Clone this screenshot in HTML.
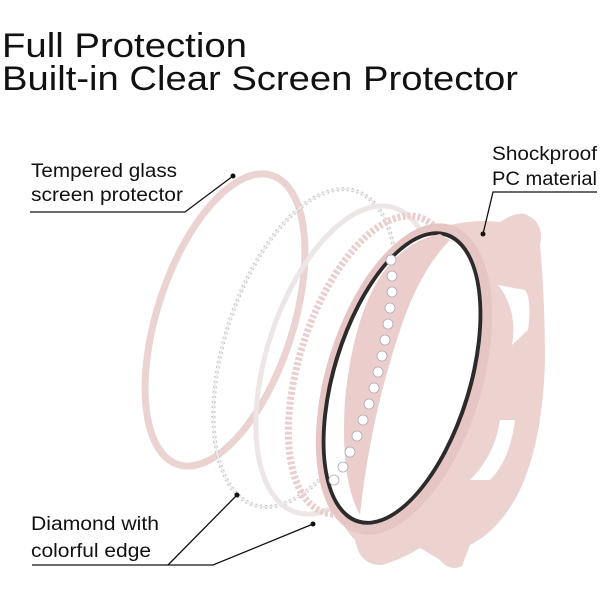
<!DOCTYPE html>
<html><head><meta charset="utf-8"><style>
html,body{margin:0;padding:0;background:#fff;}
svg{display:block;}
text{font-family:"Liberation Sans",sans-serif;fill:#111;}
</style></head><body>
<svg width="600" height="600" viewBox="0 0 600 600" xmlns="http://www.w3.org/2000/svg">
<rect width="600" height="600" fill="#fff"/>
<text x="2" y="57" font-size="34" textLength="245" lengthAdjust="spacingAndGlyphs">Full Protection</text>
<text x="2" y="90" font-size="34" textLength="516" lengthAdjust="spacingAndGlyphs">Built-in Clear Screen Protector</text>

<text x="31" y="177" font-size="19" textLength="146" lengthAdjust="spacingAndGlyphs">Tempered glass</text>
<text x="31" y="201" font-size="19" textLength="152" lengthAdjust="spacingAndGlyphs">screen protector</text>
<text x="492" y="160" font-size="19" textLength="105" lengthAdjust="spacingAndGlyphs">Shockproof</text>
<text x="492" y="185" font-size="19" textLength="105" lengthAdjust="spacingAndGlyphs">PC material</text>
<text x="31" y="530" font-size="19" textLength="128" lengthAdjust="spacingAndGlyphs">Diamond with</text>
<text x="31" y="557" font-size="19" textLength="120" lengthAdjust="spacingAndGlyphs">colorful edge</text>

<!-- glass ring -->
<ellipse cx="225" cy="320" rx="68" ry="152" transform="rotate(18 225 320)" fill="none" stroke="#ead3d1" stroke-width="7"/>
<!-- diamond ring -->
<ellipse cx="305" cy="348" rx="80" ry="165" transform="rotate(18 305 348)" fill="none" stroke="#c9c9cc" stroke-width="4" stroke-dasharray="2 3"/>
<ellipse cx="305" cy="348" rx="80" ry="165" transform="rotate(18 305 348)" fill="none" stroke="#eee" stroke-width="1.5"/>
<!-- white lattice ring -->
<ellipse cx="345" cy="360" rx="78" ry="160" transform="rotate(18 345 360)" fill="none" stroke="#ece6e6" stroke-width="5"/>
<ellipse cx="372" cy="365" rx="72" ry="155" transform="rotate(18 372 365)" fill="none" stroke="#e9cfcd" stroke-width="7" stroke-dasharray="3 2"/>

<!-- case body -->
<path d="M 380 260 Q 440 215 500 222 Q 515 212 525 214 Q 545 222 540 245 Q 545 300 545 360 Q 543 440 520 490 Q 500 530 470 545 L 462 566 Q 450 572 440 560 L 420 548 Q 400 560 382 565 Q 360 566 355 540 Q 335 520 330 480 Q 320 380 345 320 Q 360 280 380 260 Z" fill="#ecd3d0"/>
<ellipse cx="404" cy="379" rx="78" ry="161" transform="rotate(17 404 379)" fill="#e6c6c4"/>
<ellipse cx="402" cy="378" rx="70" ry="152" transform="rotate(17 402 378)" fill="#2c2a2a"/>
<ellipse cx="402" cy="378" rx="66" ry="148" transform="rotate(17 402 378)" fill="#fff"/>
<path d="M 440 234 Q 360 250 345 400 Q 340 480 360 515 Q 370 420 400 330 Q 420 270 450 240 Z" fill="#ebcdcb"/>
<path d="M 498 285 L 525 290 Q 532 300 528 330 L 512 345 Q 518 310 498 285 Z" fill="#fff"/>
<path d="M 500 420 L 515 420 Q 510 460 490 480 L 470 480 Q 495 455 500 420 Z" fill="#fff"/>
<!-- rhinestones -->
<g fill="#fff" stroke="#aab" stroke-width="0.8">
<circle cx="391" cy="260" r="5"/><circle cx="392" cy="276" r="5"/><circle cx="392" cy="292" r="5"/><circle cx="390" cy="308" r="5"/><circle cx="388" cy="324" r="5"/><circle cx="385" cy="340" r="5"/><circle cx="382" cy="356" r="5"/><circle cx="378" cy="372" r="5"/><circle cx="374" cy="388" r="5"/><circle cx="369" cy="404" r="5"/><circle cx="363" cy="420" r="5"/><circle cx="357" cy="436" r="5"/><circle cx="350" cy="452" r="5"/><circle cx="343" cy="467" r="5"/><circle cx="334" cy="480" r="5"/>
</g>

<!-- leaders -->
<g stroke="#111" stroke-width="1.3" fill="none">
<polyline points="30,212 185,212 233,176"/>
<polyline points="597,192 493,192 483,234"/>
<polyline points="32,565 213,565 313,524"/>
<line x1="168" y1="565" x2="237" y2="495"/>
</g>
<g fill="#111"><circle cx="233" cy="176" r="2.5"/><circle cx="483" cy="234" r="2.5"/><circle cx="313" cy="524" r="2.5"/><circle cx="237" cy="495" r="2.5"/></g>
</svg>
</body></html>
